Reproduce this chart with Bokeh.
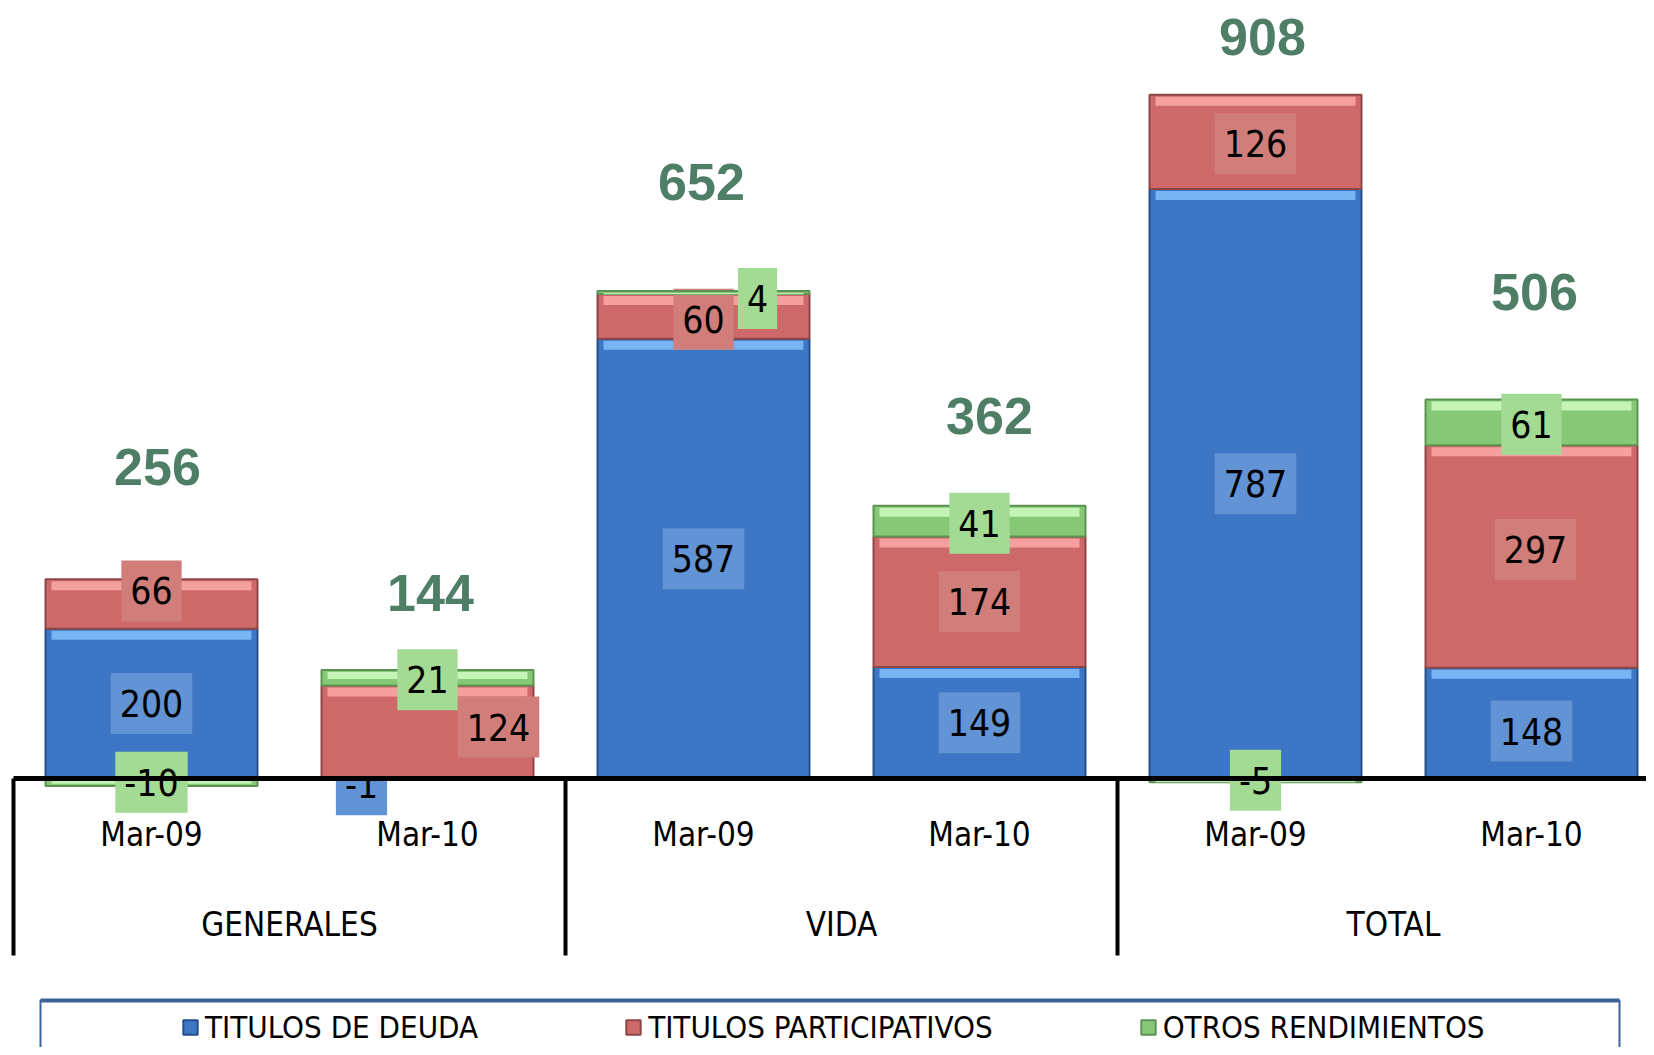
import subprocess
from bokeh.plotting import figure
from bokeh.models import Range1d, ColumnDataSource, Legend, LegendItem
from bokeh.core.properties import value
from bokeh.embed import file_html
from bokeh.resources import INLINE

# ---------------- data ----------------
groups = ["GENERALES", "VIDA", "TOTAL"]
periods = ["Mar-09", "Mar-10"]
series_names = ["TITULOS DE DEUDA", "TITULOS PARTICIPATIVOS", "OTROS RENDIMIENTOS"]
deuda = [200, -1, 587, 149, 787, 148]
particip = [66, 124, 60, 174, 126, 297]
otros = [-10, 21, 4, 41, -5, 61]
totales = [256, 144, 652, 362, 908, 506]

# ---------------- fonts ----------------
try:
    fams = subprocess.run(["fc-list", ":", "family"], capture_output=True, text=True).stdout
except Exception:
    fams = ""
if "Liberation Sans Narrow" in fams:
    NARROW = "Liberation Sans Narrow"
    LBL_FS, AX_FS, LEG_FS = 42, 37, 32
    PAD = (11, 17)
else:
    NARROW = "DejaVu Sans Condensed"
    LBL_FS, AX_FS, LEG_FS = 37, 33, 31
    PAD = (9, 17)
BOLD = "Liberation Sans"

# ---------------- layout / style ----------------
W, H = 1646, 1047
PX = 0.749          # pixels per unit
ZERO_Y = 778        # canvas px of zero line
CAT_W = 276         # px per category
FIRST_C = 151       # canvas px of first category centre
BAR_W = 0.768

fills = ["#3C76C4", "#CD6A69", "#86C876"]
edges = ["#24508A", "#8E4645", "#5C9254"]
hilite = ["#7CBBF8", "#F9A6A5", "#CBF8BE"]
lbl_bg = ["#6193D5", "#D17E7A", "#A3DA94"]

# label offsets in px (dx, dy) per series per bar
lbl_dx = [[0, -66, 0, 0, 0, 0], [0, 71, 0, 0, 0, 4], [0, 0, 54, 0, 0, 0]]
lbl_dy = [[0, 6, 0, 0, 0, 8], [-13, -5, 3, 0, 2, -7], [0, 2, 6, 2, 0, 2]]
total_dx_px = [6, 3, -2, 10, 7, 3]
total_gap_px = [112, 77, 109, 90, 58, 108]

n = len(deuda)
xs = list(range(n))
series = [deuda, particip, otros]

p = figure(width=W, height=H, output_backend="svg", toolbar_location=None,
           x_range=Range1d(-FIRST_C / CAT_W, (W - FIRST_C) / CAT_W),
           y_range=Range1d(-(H - ZERO_Y) / PX, ZERO_Y / PX),
           min_border=0, min_border_left=0, min_border_right=0,
           min_border_top=0, min_border_bottom=0)
p.outline_line_color = None
p.grid.visible = False
p.axis.visible = False
p.background_fill_color = "white"
p.border_fill_color = "white"

# stacking
pos = [0.0] * n
neg = [0.0] * n
renderers = []
for s, vals in enumerate(series):
    bottoms, tops = [], []
    for i, v in enumerate(vals):
        if v >= 0:
            b, t = pos[i], pos[i] + v
            pos[i] = t
        else:
            b, t = neg[i] + v, neg[i]
            neg[i] = b
        bottoms.append(b)
        tops.append(t)
    src = ColumnDataSource(dict(x=xs, bottom=bottoms, top=tops))
    r = p.vbar(x="x", bottom="bottom", top="top", width=BAR_W, source=src,
               fill_color=fills[s], line_color=edges[s], line_width=2)
    renderers.append(r)
    # highlight band at the top of each segment
    hb, ht = [], []
    for b, t in zip(bottoms, tops):
        hpx = (t - b) * PX
        bandpx = min(9.0, 0.45 * hpx)
        ht.append(t - 2.0 / PX)
        hb.append(t - (2.0 + bandpx) / PX)
    p.vbar(x=xs, bottom=hb, top=ht, width=BAR_W - 12.0 / CAT_W,
           fill_color=hilite[s], line_color=None, fill_alpha=0.9)
    # value labels
    lsrc = ColumnDataSource(dict(
        x=xs, y=[(b + t) / 2 for b, t in zip(bottoms, tops)],
        text=[str(v) for v in vals], dx=lbl_dx[s], dy=lbl_dy[s]))
    p.text(x="x", y="y", text="text", source=lsrc, x_offset="dx", y_offset="dy",
           text_align="center", text_baseline="middle",
           text_font=value(NARROW), text_font_size=f"{LBL_FS}px", text_color="black",
           background_fill_color=lbl_bg[s], padding=PAD)

# totals
tsrc = ColumnDataSource(dict(x=xs, y=pos, text=[str(v) for v in totales],
                             dx=total_dx_px, dy=[-g for g in total_gap_px]))
p.text(x="x", y="y", text="text", source=tsrc, x_offset="dx", y_offset="dy",
       text_align="center", text_baseline="middle",
       text_font=value(BOLD), text_font_style="bold", text_font_size="52px",
       text_color="#4E7F66")

# category axis drawing
x_end = (W - FIRST_C) / CAT_W
p.segment(x0=[-0.5], y0=[0], x1=[x_end], y1=[0], line_color="black", line_width=5)
sep_x = [-0.5 + 2 * g for g in range(len(groups))]
sep_bottom = -(955 - ZERO_Y) / PX
p.segment(x0=sep_x, y0=[0] * len(sep_x), x1=sep_x, y1=[sep_bottom] * len(sep_x),
          line_color="black", line_width=4)

sub_labels = [periods[i % 2] for i in range(n)]
p.text(x=xs, y=[-(834 - ZERO_Y) / PX] * n, text=sub_labels,
       text_align="center", text_baseline="middle",
       text_font=value(NARROW), text_font_size=f"{AX_FS}px", text_color="black")
p.text(x=[0.5 + 2 * g for g in range(len(groups))], y=[-(924 - ZERO_Y) / PX] * len(groups),
       text=groups, text_align="center", text_baseline="middle",
       text_font=value(NARROW), text_font_size=f"{AX_FS}px", text_color="black")

# legend frame
lx0 = (40 - FIRST_C) / CAT_W
lx1 = (1619 - FIRST_C) / CAT_W
ly_top = (ZERO_Y - 1000) / PX
p.quad(left=[lx0], right=[lx1], top=[ly_top], bottom=[-(H - ZERO_Y) / PX - 20],
       fill_color="white", line_color="#3B6396", line_width=2)
p.segment(x0=[lx0], y0=[ly_top], x1=[lx1], y1=[ly_top], line_color="#3B6396", line_width=4)

legend = Legend(items=[LegendItem(label=nm, renderers=[r]) for nm, r in zip(series_names, renderers)],
                orientation="horizontal", location=(181, 2),
                label_text_font=NARROW, label_text_font_size=f"{LEG_FS}px",
                label_text_color="black",
                glyph_width=18, glyph_height=18, label_standoff=6, spacing=146,
                padding=0, margin=0, border_line_color=None, background_fill_alpha=0)
p.add_layout(legend, "center")

open("out.html", "w").write(file_html(p, INLINE))
